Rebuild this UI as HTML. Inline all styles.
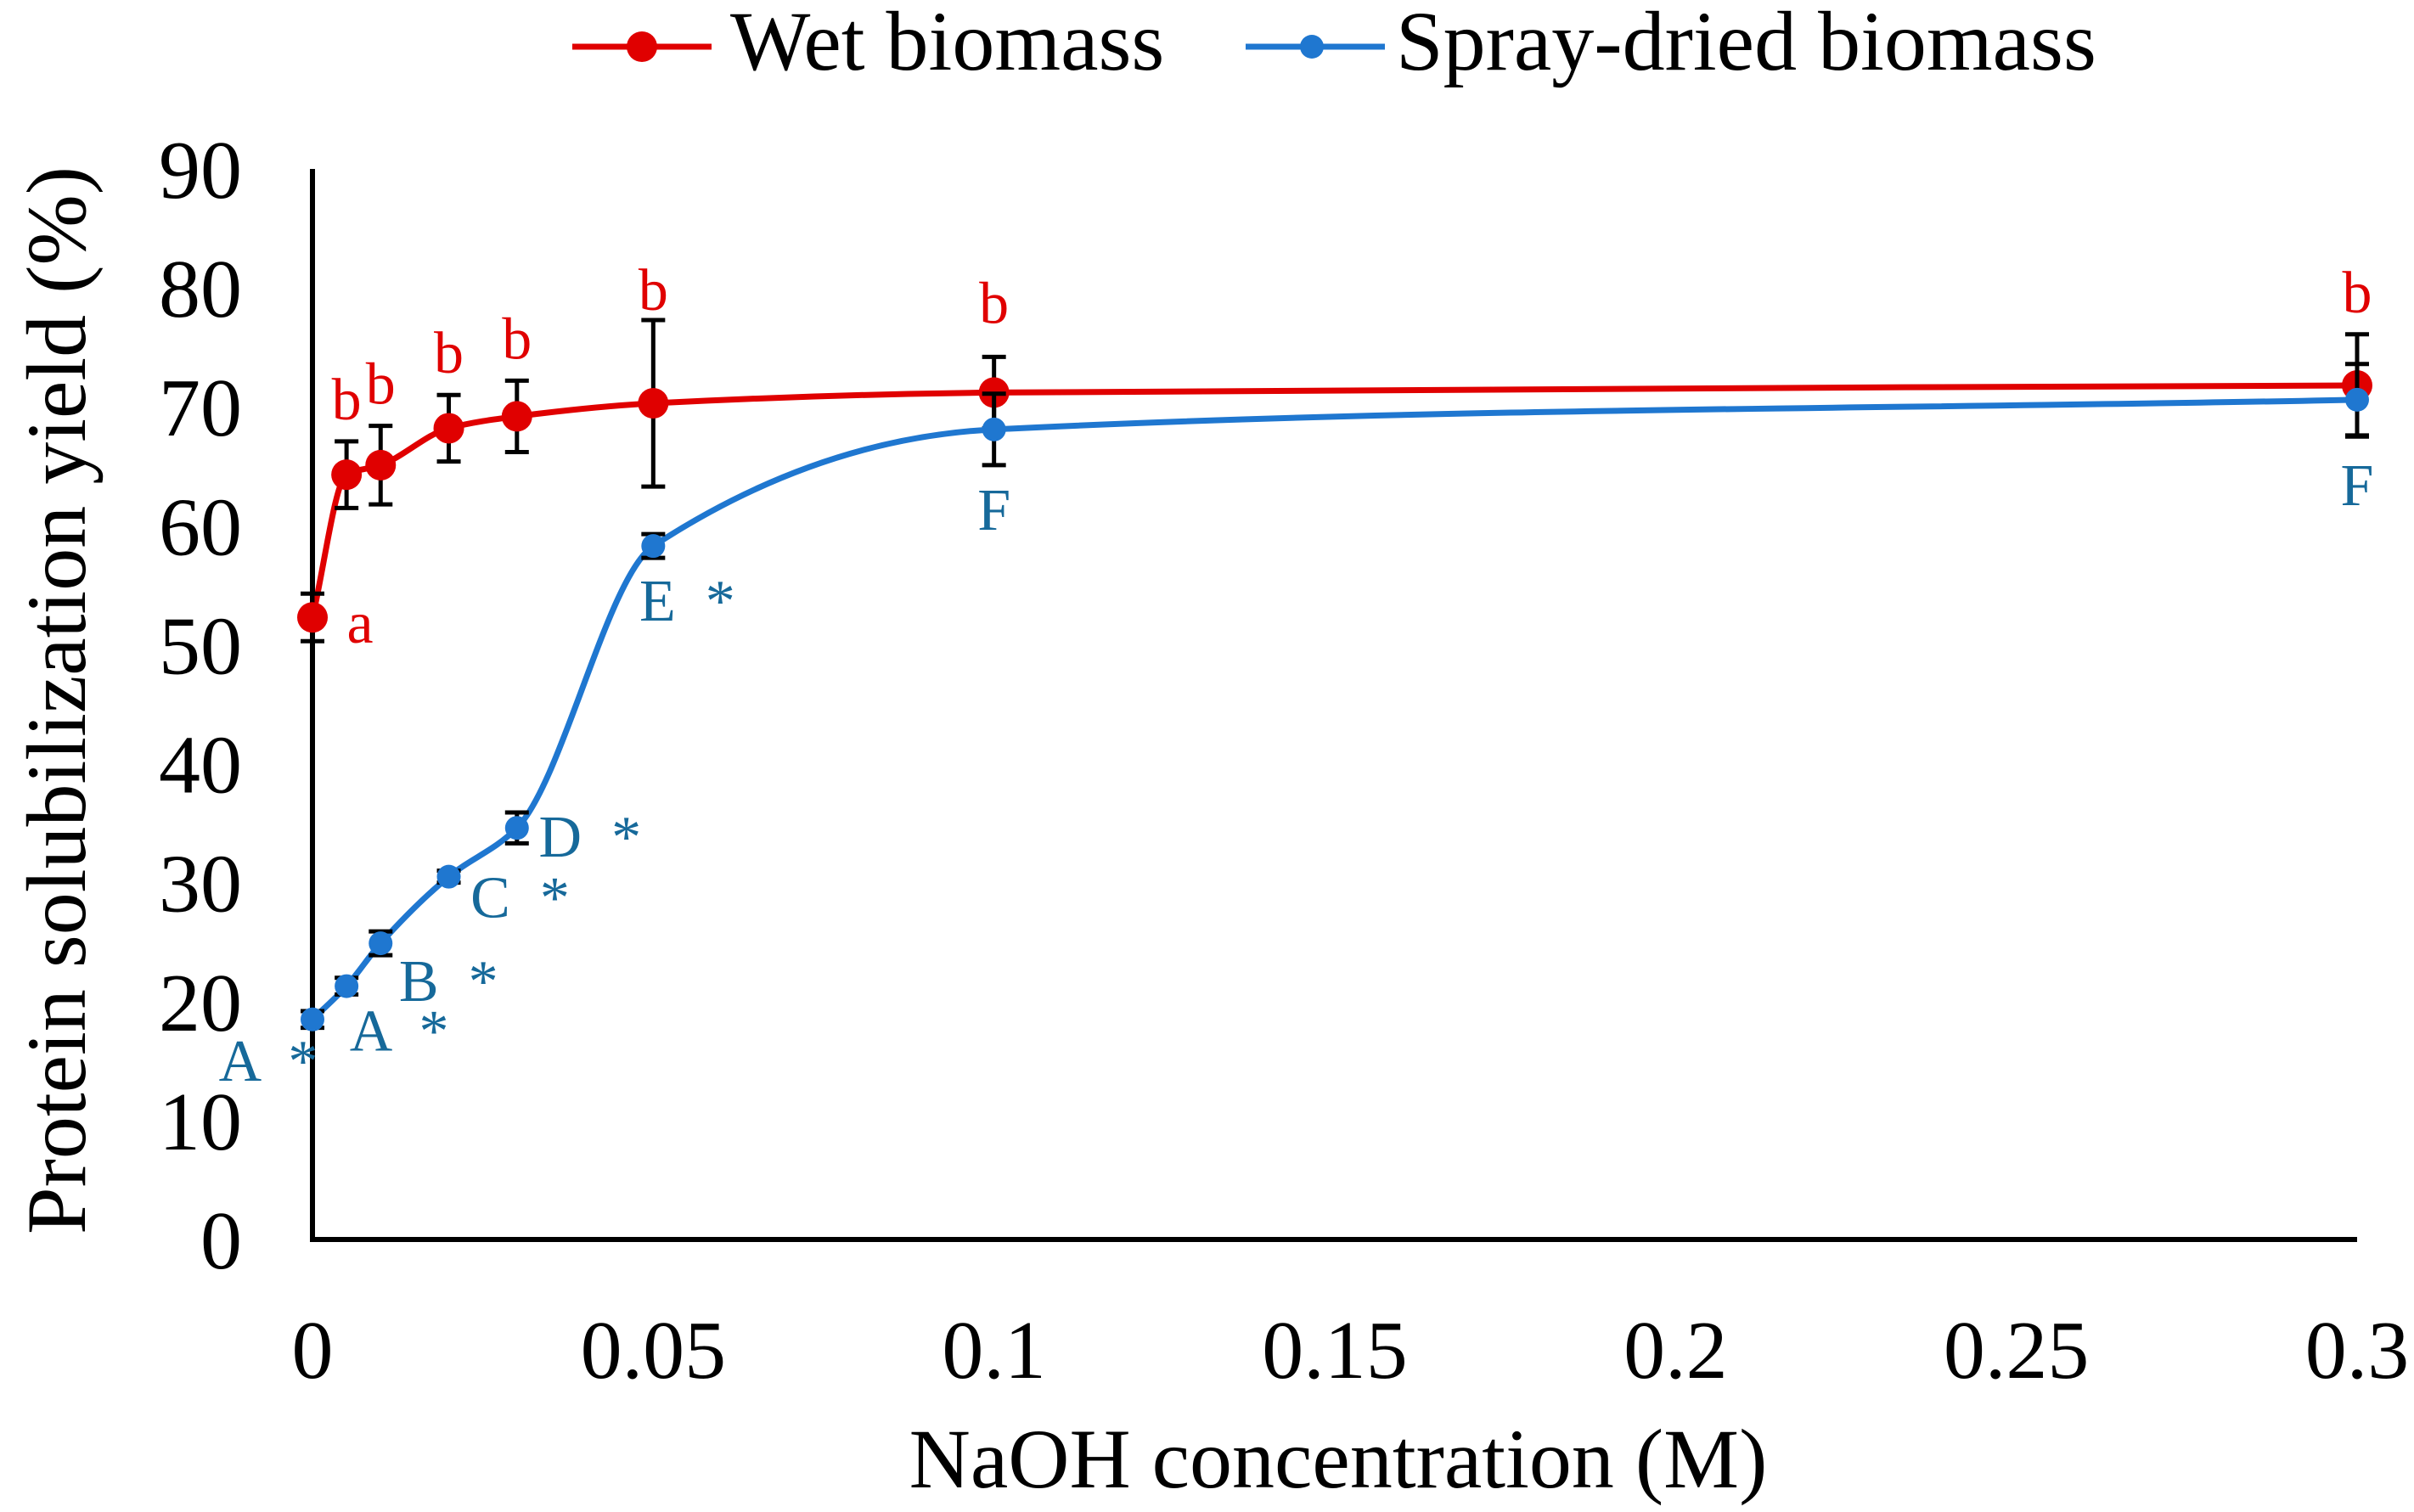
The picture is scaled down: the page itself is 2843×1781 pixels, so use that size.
<!DOCTYPE html>
<html><head><meta charset="utf-8"><style>
html,body{margin:0;padding:0;background:#fff;}
svg{display:block;font-family:"Liberation Serif",serif;}
</style></head><body>
<svg id="chart" width="2843" height="1781" viewBox="0 0 2843 1781" xmlns="http://www.w3.org/2000/svg">
<g id="axes"></g>
<g id="series"></g>
<g id="legend">
  <line x1="674" y1="55" x2="838" y2="55" stroke="#e00000" stroke-width="7"/>
  <circle cx="756" cy="55" r="18" fill="#e00000"/>
  <text x="860" y="82" font-size="100" fill="#000">Wet biomass</text>
  <line x1="1467" y1="55" x2="1631" y2="55" stroke="#1f77d0" stroke-width="7"/>
  <circle cx="1545" cy="55" r="14" fill="#1f77d0"/>
  <text x="1644" y="82" font-size="100" fill="#000">Spray-dried biomass</text>
</g>
<text x="1576" y="1752" font-size="100" text-anchor="middle">NaOH concentration (M)</text>
<text transform="translate(100,825) rotate(-90)" font-size="100" text-anchor="middle">Protein solubilization yield (%)</text>
</svg>
<script>
const xCats = [0, 0.005, 0.01, 0.02, 0.03, 0.05, 0.1, 0.3];
const wetVals = [52.3, 64.3, 65.1, 68.2, 69.2, 70.3, 71.2, 71.8];
const wetErr = [2.0, 2.8, 3.3, 2.8, 3.0, 7.0, 3.0, 4.3];
const wetLabels = ["a","b","b","b","b","b","b","b"];
const sprayVals = [18.5, 21.3, 24.9, 30.5, 34.6, 58.3, 68.1, 70.6];
const sprayErr = [0.7, 0.7, 1.0, 0.5, 1.3, 1.0, 3.0, 3.0];
const sprayLabels = ["A  *","A  *","B  *","C  *","D  *","E  *","F","F"];
const yTicks = [0,10,20,30,40,50,60,70,80,90];
const xTicks = [0,0.05,0.1,0.15,0.2,0.25,0.3];
const xTickLabels = ["0","0.05","0.1","0.15","0.2","0.25","0.3"];

const NS = "http://www.w3.org/2000/svg";
const X0=368, X1=2776, Y0=1460, Y1=199;
function xs(v){return X0 + v/0.3*(X1-X0);}
function ys(v){return Y0 - v/90*(Y0-Y1);}
function mk(tag, attrs, parent){const e=document.createElementNS(NS,tag);for(const k in attrs)e.setAttribute(k,attrs[k]);parent.appendChild(e);return e;}

const axes=document.getElementById('axes');
let a=mk('line',{x1:X0,y1:Y1,x2:X0,y2:Y0,stroke:'#000','stroke-width':6},axes);


a=mk('line',{x1:X0-3,y1:Y0,x2:X1,y2:Y0,stroke:'#000','stroke-width':6},axes);


yTicks.forEach(t=>{
  const e=mk('text',{x:285,y:ys(t)+34,'font-size':98,'text-anchor':'end'},axes);
  e.textContent=t;
  
  
});
xTicks.forEach((t,i)=>{
  const e=mk('text',{x:xs(t),y:1623,'font-size':98,'text-anchor':'middle'},axes);
  e.textContent=xTickLabels[i];
  
  
});

function smoothPath(pts){
  const n=pts.length, d=[], m=[];
  for(let i=0;i<n-1;i++) d.push((pts[i+1][1]-pts[i][1])/(pts[i+1][0]-pts[i][0]));
  m[0]=d[0]; m[n-1]=d[n-2];
  for(let i=1;i<n-1;i++){
    if(d[i-1]*d[i]<=0) m[i]=0;
    else{
      const h0=pts[i][0]-pts[i-1][0], h1=pts[i+1][0]-pts[i][0];
      const w1=2*h1+h0, w2=h1+2*h0;
      m[i]=(w1+w2)/(w1/d[i-1]+w2/d[i]);
    }
  }
  let s=`M${pts[0][0]},${pts[0][1]}`;
  for(let i=0;i<n-1;i++){
    const h=(pts[i+1][0]-pts[i][0])/3;
    s+=` C${pts[i][0]+h},${pts[i][1]+m[i]*h} ${pts[i+1][0]-h},${pts[i+1][1]-m[i+1]*h} ${pts[i+1][0]},${pts[i+1][1]}`;
  }
  return s;
}
const series=document.getElementById('series');
function drawSeries(vals, errs, color, r, name){
  const g=mk('g',{},series);
  
  
  const pts=xCats.map((x,i)=>[xs(x),ys(vals[i])]);
  const p=mk('path',{d:smoothPath(pts),fill:'none',stroke:color,'stroke-width':7},g);
  
  
  xCats.forEach((x,i)=>{
    const cx=xs(x), top=ys(vals[i]+errs[i]), bot=ys(vals[i]-errs[i]);
    const eb=mk('path',{d:`M${cx},${top} V${bot} M${cx-14},${top} H${cx+14} M${cx-14},${bot} H${cx+14}`,stroke:'#000','stroke-width':5,fill:'none'},g);
    
    
  });
  xCats.forEach((x,i)=>{
    const c=mk('circle',{cx:xs(x),cy:ys(vals[i]),r:r,fill:color},g);
    
    
  });
}
drawSeries(wetVals,wetErr,'#e00000',18,'wet');
drawSeries(sprayVals,sprayErr,'#1f77d0',14,'spray');

const wOff=[0,-26,-26,-26,-26,-12,-40,-26];
wetLabels.forEach((l,i)=>{
  let x,y;
  if(i===0){x=xs(xCats[i])+56;y=ys(wetVals[i])+30;}
  else{x=xs(xCats[i]);y=ys(wetVals[i]+wetErr[i])+wOff[i];}
  const e=mk('text',{x:x,y:y,'font-size':70,'text-anchor':'middle',fill:'#e00000'},series);
  e.textContent=l;
  
  
});
const sOff=[[-52,72],[62,76],[80,68],[84,48],[86,34],[40,88],[0,118],[0,124]];
sprayLabels.forEach((l,i)=>{
  const e=mk('text',{x:xs(xCats[i])+sOff[i][0],y:ys(sprayVals[i])+sOff[i][1],'font-size':70,'text-anchor':'middle',fill:'#16699a'},series);
  e.setAttribute('style','white-space:pre');
  e.textContent=l;
  
  
});
</script>
</body></html>
